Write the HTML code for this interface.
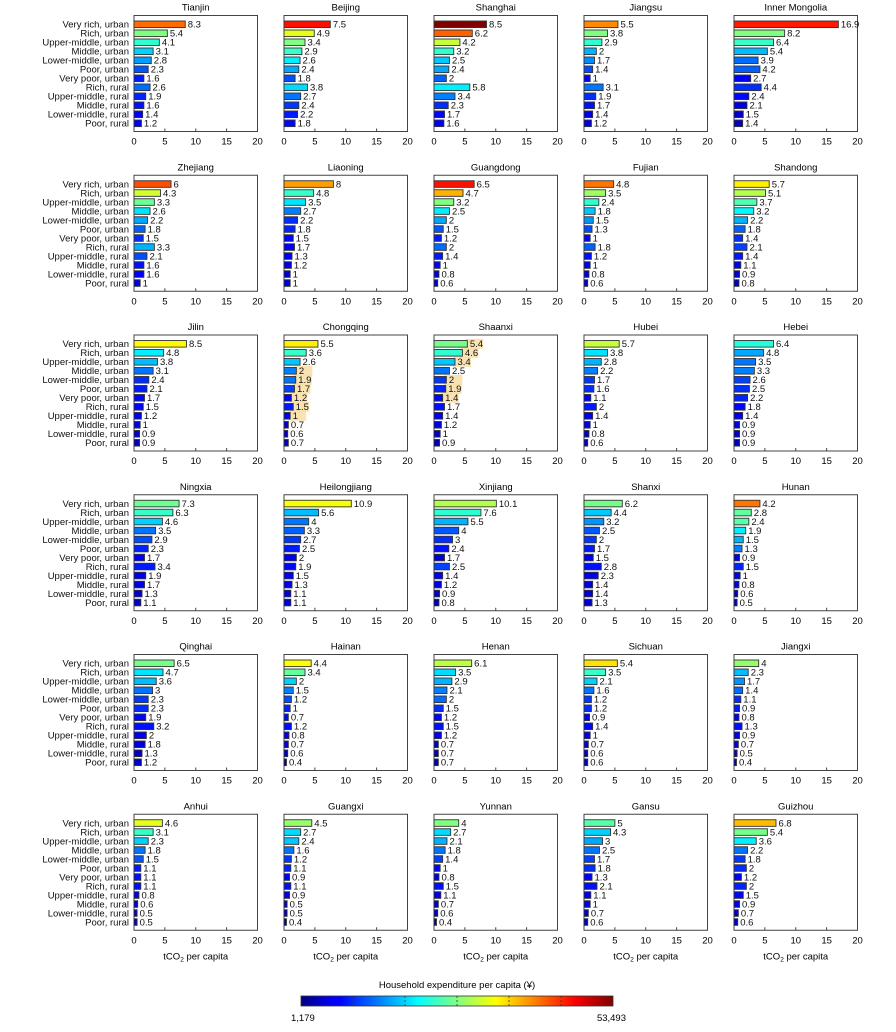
<!DOCTYPE html>
<html><head><meta charset="utf-8">
<style>
body{margin:0;background:#fff;}
svg{display:block;font-family:"Liberation Sans",Arial,sans-serif;}
</style></head>
<body>
<svg id="chart" width="896" height="1032" viewBox="0 0 896 1032" xmlns="http://www.w3.org/2000/svg">
<defs>
<linearGradient id="jetgrad" x1="0" x2="1" y1="0" y2="0">
<stop offset="0" stop-color="#000080"/>
<stop offset="0.11" stop-color="#0000ff"/>
<stop offset="0.125" stop-color="#0000ff"/>
<stop offset="0.375" stop-color="#00ffff"/>
<stop offset="0.5" stop-color="#80ff80"/>
<stop offset="0.625" stop-color="#ffff00"/>
<stop offset="0.875" stop-color="#ff0000"/>
<stop offset="1" stop-color="#800000"/>
</linearGradient>
</defs>
</svg>
<script>
const categories = ["Very rich, urban","Rich, urban","Upper-middle, urban","Middle, urban","Lower-middle, urban","Poor, urban","Very poor, urban","Rich, rural","Upper-middle, rural","Middle, rural","Lower-middle, rural","Poor, rural"];
const provinces = ["Tianjin","Beijing","Shanghai","Jiangsu","Inner Mongolia","Zhejiang","Liaoning","Guangdong","Fujian","Shandong","Jilin","Chongqing","Shaanxi","Hubei","Hebei","Ningxia","Heilongjiang","Xinjiang","Shanxi","Hunan","Qinghai","Hainan","Henan","Sichuan","Jiangxi","Anhui","Guangxi","Yunnan","Gansu","Guizhou"];
const emissions = [
[8.3,5.4,4.1,3.1,2.8,2.3,1.6,2.6,1.9,1.6,1.4,1.2],
[7.5,4.9,3.4,2.9,2.6,2.4,1.8,3.8,2.7,2.4,2.2,1.8],
[8.5,6.2,4.2,3.2,2.5,2.4,2,5.8,3.4,2.3,1.7,1.6],
[5.5,3.8,2.9,2,1.7,1.4,1,3.1,1.9,1.7,1.4,1.2],
[16.9,8.2,6.4,5.4,3.9,4.2,2.7,4.4,2.4,2.1,1.5,1.4],
[6,4.3,3.3,2.6,2.2,1.8,1.5,3.3,2.1,1.6,1.6,1],
[8,4.8,3.5,2.7,2.2,1.8,1.5,1.7,1.3,1.2,1,1],
[6.5,4.7,3.2,2.5,2,1.5,1.2,2,1.4,1,0.8,0.6],
[4.8,3.5,2.4,1.8,1.5,1.3,1,1.8,1.2,1,0.8,0.6],
[5.7,5.1,3.7,3.2,2.2,1.8,1.4,2.1,1.4,1.1,0.9,0.8],
[8.5,4.8,3.8,3.1,2.4,2.1,1.7,1.5,1.2,1,0.9,0.9],
[5.5,3.6,2.6,2,1.9,1.7,1.2,1.5,1,0.7,0.6,0.7],
[5.4,4.6,3.4,2.5,2,1.9,1.4,1.7,1.4,1.2,1,0.9],
[5.7,3.8,2.8,2.2,1.7,1.6,1.1,2,1.4,1,0.8,0.6],
[6.4,4.8,3.5,3.3,2.6,2.5,2.2,1.8,1.4,0.9,0.9,0.9],
[7.3,6.3,4.6,3.5,2.9,2.3,1.7,3.4,1.9,1.7,1.3,1.1],
[10.9,5.6,4,3.3,2.7,2.5,2,1.9,1.5,1.3,1.1,1.1],
[10.1,7.6,5.5,4,3,2.4,1.7,2.5,1.4,1.2,0.9,0.8],
[6.2,4.4,3.2,2.5,2,1.7,1.5,2.8,2.3,1.4,1.4,1.3],
[4.2,2.8,2.4,1.9,1.5,1.3,0.9,1.5,1,0.8,0.6,0.5],
[6.5,4.7,3.6,3,2.3,2.3,1.9,3.2,2,1.8,1.3,1.2],
[4.4,3.4,2,1.5,1.2,1,0.7,1.2,0.8,0.7,0.6,0.4],
[6.1,3.5,2.9,2.1,2,1.5,1.2,1.5,1.2,0.7,0.7,0.7],
[5.4,3.5,2.1,1.6,1.2,1.2,0.9,1.4,1,0.7,0.6,0.6],
[4,2.3,1.7,1.4,1.1,0.9,0.8,1.3,0.9,0.7,0.5,0.4],
[4.6,3.1,2.3,1.8,1.5,1.1,1.1,1.1,0.8,0.6,0.5,0.5],
[4.5,2.7,2.4,1.6,1.2,1.1,0.9,1.1,0.9,0.5,0.5,0.4],
[4,2.7,2.1,1.8,1.4,1,0.8,1.5,1.1,0.7,0.6,0.4],
[5,4.3,3,2.5,1.7,1.8,1.3,2.1,1.1,1,0.7,0.6],
[6.8,5.4,3.6,2.2,1.8,2,1.2,2,1.5,0.9,0.7,0.6]
];
// expenditure level, normalised 0..1 on the colour scale
const expenditureLevel = [
[.77,.5,.42,.33,.28,.21,.15,.23,.16,.14,.12,.12],
[.86,.6,.5,.43,.36,.29,.2,.34,.24,.18,.15,.13],
[1,.78,.57,.42,.32,.29,.22,.36,.25,.17,.13,.12],
[.74,.5,.42,.3,.26,.2,.12,.24,.17,.14,.1,.09],
[.85,.5,.43,.31,.23,.22,.12,.17,.13,.1,.07,.06],
[.8,.58,.48,.35,.29,.22,.17,.3,.2,.14,.12,.1],
[.72,.43,.35,.25,.17,.16,.13,.12,.11,.1,.08,.08],
[.86,.7,.5,.36,.29,.21,.15,.23,.15,.12,.09,.08],
[.76,.53,.42,.32,.27,.2,.13,.22,.14,.11,.08,.07],
[.64,.55,.45,.37,.3,.22,.17,.19,.15,.11,.08,.06],
[.63,.36,.31,.24,.17,.15,.13,.13,.12,.1,.08,.06],
[.64,.43,.32,.25,.24,.19,.13,.15,.11,.08,.07,.05],
[.49,.42,.32,.24,.18,.16,.13,.14,.12,.1,.07,.05],
[.57,.35,.3,.25,.18,.17,.12,.15,.11,.1,.07,.06],
[.41,.29,.24,.25,.19,.17,.16,.13,.11,.09,.07,.06],
[.48,.43,.33,.24,.2,.16,.12,.15,.11,.1,.08,.07],
[.62,.31,.24,.22,.18,.15,.12,.13,.12,.1,.09,.09],
[.55,.42,.3,.21,.17,.14,.08,.19,.12,.1,.07,.05],
[.49,.32,.27,.21,.18,.15,.11,.14,.11,.09,.08,.07],
[.76,.47,.46,.36,.3,.25,.1,.16,.12,.1,.07,.06],
[.49,.35,.31,.24,.18,.17,.13,.14,.11,.09,.07,.06],
[.62,.47,.33,.25,.2,.16,.13,.14,.11,.09,.07,.05],
[.56,.34,.3,.25,.23,.17,.13,.14,.12,.07,.06,.05],
[.65,.43,.33,.24,.18,.17,.12,.13,.11,.08,.07,.06],
[.52,.31,.27,.23,.17,.15,.12,.14,.11,.09,.07,.06],
[.6,.43,.33,.24,.21,.15,.14,.14,.1,.08,.07,.06],
[.52,.34,.32,.24,.18,.16,.12,.14,.1,.08,.07,.05],
[.5,.34,.3,.24,.19,.13,.1,.14,.11,.08,.07,.05],
[.46,.33,.29,.24,.19,.17,.12,.14,.11,.1,.08,.06],
[.69,.49,.36,.24,.18,.17,.12,.16,.13,.1,.08,.06]
];
const highlights = [[11,3],[11,4],[11,5],[11,6],[11,7],[11,8],[12,0],[12,1],[12,2],[12,4],[12,5],[12,6]];
const xTicks = [0,5,10,15,20];
const colorbarLabels = ["1,179","53,493"];

const NS = "http://www.w3.org/2000/svg";
const svg = document.getElementById("chart");
function mk(tag, attrs, parent){
  const e = document.createElementNS(NS, tag);
  for (const k in attrs) e.setAttribute(k, attrs[k]);
  (parent||svg).appendChild(e);
  return e;
}
function jet(t){
  const c = v => Math.max(0, Math.min(1, v));
  const r = c(1.5 - Math.abs(4*t - 3));
  const g = c(1.5 - Math.abs(4*t - 2));
  const b = c(1.5 - Math.abs(4*t - 1));
  return `rgb(${Math.round(r*255)},${Math.round(g*255)},${Math.round(b*255)})`;
}
const colLeft = [134, 284, 434, 584, 734];
const boxW = 123.5, boxH = 116, rowPitch = 159.75, top0 = 15.5;
const xMax = 20;
function xScale(left, v){ return left + v / xMax * boxW; }
function yScale(top, i){ return top + 8.8 + i * 9.0; }

provinces.forEach((name, p) => {
  const col = p % 5, row = Math.floor(p / 5);
  const left = colLeft[col], top = top0 + row * rowPitch;
  const g = mk("g", {});
  
  
  const title = mk("text", {x: left + boxW/2, y: top - 5, "text-anchor":"middle", "font-size":"9.5"}, g);
  title.textContent = name;
  
  
  const box = mk("rect", {x:left, y:top, width:boxW, height:boxH, fill:"#fff", stroke:"#444", "stroke-width":"1"}, g);
  
  
  // highlights
  highlights.forEach(h => {
    if (h[0] !== p) return;
    const v = emissions[p][h[1]];
    const hl = mk("rect", {x: xScale(left, v) - 2, y: yScale(top, h[1]) - 5, width: 18, height: 10, fill:"#f8dca0", opacity:"0.8"}, g);
    
    
  });
  emissions[p].forEach((v, i) => {
    const cy = yScale(top, i);
    const bar = mk("rect", {x:left, y:cy - 3.3, width: xScale(left, v) - left, height: 6.6, fill: jet(expenditureLevel[p][i]), stroke:"#333", "stroke-width":"0.9"}, g);
    
    
    const t = mk("text", {x: xScale(left, v) + 2.5, y: cy + 3.4, "font-size":"9.5", fill:"#111"}, g);
    t.textContent = String(v);
    
    
    if (col === 0) {
      const c = mk("text", {x: left - 5, y: cy + 3.4, "text-anchor":"end", "font-size":"9.5", fill:"#111"}, g);
      c.textContent = categories[i];
      
      
    }
  });
  xTicks.forEach(tk => {
    const x = xScale(left, tk);
    const tm = mk("line", {x1:x, x2:x, y1: top + boxH, y2: top + boxH - 3, stroke:"#444", "stroke-width":"1"}, g);
    
    
    const tl = mk("text", {x:x, y: top + boxH + 13, "text-anchor":"middle", "font-size":"9.5"}, g);
    tl.textContent = String(tk);
    
    
  });
  if (row === 5) {
    const at = mk("text", {x: left + boxW/2, y: top + boxH + 29, "text-anchor":"middle", "font-size":"9.5"}, g);
    
    
    at.appendChild(document.createTextNode("tCO"));
    const sub = mk("tspan", {"font-size":"6.5", dy:"2"}, at);
    sub.textContent = "2";
    const rest = mk("tspan", {dy:"-2"}, at);
    rest.textContent = " per capita";
  }
});

// colour bar
const cb = mk("g", {});


const cbx = 301, cby = 996, cbw = 312, cbh = 10;
const cbt = mk("text", {x: cbx + cbw/2, y: 988, "text-anchor":"middle", "font-size":"9.5"}, cb);
cbt.textContent = "Household expenditure per capita (¥)";


const cbr = mk("rect", {x:cbx, y:cby, width:cbw, height:cbh, fill:"url(#jetgrad)", stroke:"#333", "stroke-width":"0.8"}, cb);


for (let k = 1; k < 6; k++) {
  const x = cbx + cbw * k / 6;
  const d = mk("line", {x1:x, x2:x, y1:cby, y2:cby+cbh, stroke:"#333", "stroke-width":"0.8", "stroke-dasharray":"2,2"}, cb);
  
  
}
const l1 = mk("text", {x: cbx - 10, y: 1021, "font-size":"9.5"}, cb);
l1.textContent = colorbarLabels[0];


const l2 = mk("text", {x: cbx + cbw + 13, y: 1021, "text-anchor":"end", "font-size":"9.5"}, cb);
l2.textContent = colorbarLabels[1];


</script>
</body></html>
